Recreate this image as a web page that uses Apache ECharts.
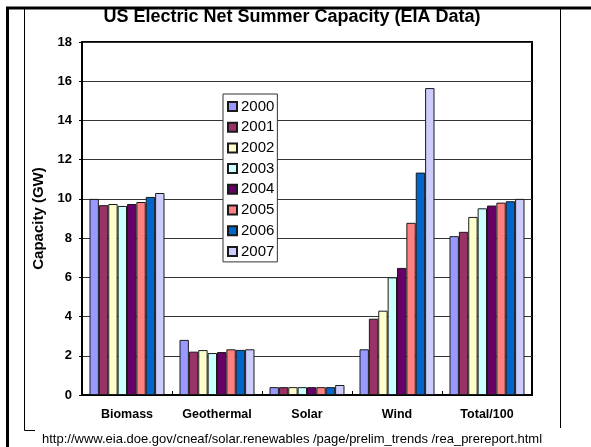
<!DOCTYPE html>
<html>
<head>
<meta charset="utf-8">
<script src="https://cdn.jsdelivr.net/npm/echarts@6/dist/echarts.min.js"></script>
<style>
  html, body { margin: 0; padding: 0; background: #fff; }
  #chart { width: 591px; height: 447px; }
</style>
</head>
<body>
<div id="chart"></div>
<script>
// Renewable source categories on the x axis
var categories = ['Biomass', 'Geothermal', 'Solar', 'Wind', 'Total/100'];

// Net summer capacity (GW) per year, one value per category
var years = ['2000', '2001', '2002', '2003', '2004', '2005', '2006', '2007'];
var cap2000 = [10.0, 2.81, 0.40, 2.33, 8.10];
var cap2001 = [9.68, 2.21, 0.40, 3.89, 8.32];
var cap2002 = [9.74, 2.29, 0.40, 4.30, 9.08];
var cap2003 = [9.64, 2.14, 0.40, 6.00, 9.52];
var cap2004 = [9.74, 2.19, 0.40, 6.48, 9.66];
var cap2005 = [9.84, 2.33, 0.40, 8.78, 9.81];
var cap2006 = [10.1, 2.30, 0.40, 11.34, 9.88];
var cap2007 = [10.3, 2.33, 0.51, 15.65, 10.0];
var yearValues = [cap2000, cap2001, cap2002, cap2003, cap2004, cap2005, cap2006, cap2007];

// Y axis tick values
var yTicks = [0, 2, 4, 6, 8, 10, 12, 14, 16, 18];

var palette = ['#9999FF', '#993366', '#FFFFCC', '#CCFFFF', '#660066', '#FF8080', '#0066CC', '#CCCCFF'];
var FONT = 'Liberation Sans, Arial, sans-serif';

var series = years.map(function (y, i) {
  return {
    name: y,
    type: 'bar',
    data: yearValues[i],
    barGap: '0%',
    barCategoryGap: '16.7%',
    itemStyle: { color: palette[i], borderColor: '#1a1a1a', borderWidth: 1 },
    emphasis: { disabled: true },
    animation: false
  };
});

var chart = echarts.init(document.getElementById('chart'), null, { renderer: 'canvas' });
chart.setOption({
  animation: false,
  backgroundColor: '#fff',
  title: {
    text: 'US Electric Net Summer Capacity (EIA Data)',
    left: 292,
    textAlign: 'center',
    top: 8,
    padding: 0,
    textStyle: { fontFamily: FONT, fontWeight: 'bold', fontSize: 18, color: '#000' }
  },
  legend: {
    orient: 'vertical',
    left: 223,
    top: 94,
    data: years,
    itemWidth: 9,
    itemHeight: 9,
    itemGap: 3.7,
    padding: [4, 3, 2, 4],
    backgroundColor: '#fff',
    borderColor: '#333',
    borderWidth: 1,
    borderRadius: 0,
    icon: 'rect',
    selectedMode: false,
    textStyle: { fontFamily: FONT, fontSize: 15, color: '#000', lineHeight: 17, padding: [0, 0, 0, -1] }
  },
  grid: {
    left: 82, top: 42, right: 59, bottom: 52,
    show: true, borderColor: '#000', borderWidth: 2, containLabel: false
  },
  xAxis: {
    type: 'category',
    data: categories,
    axisLine: { show: true, lineStyle: { color: '#000', width: 2 } },
    axisTick: { show: true, inside: true, length: 4, lineStyle: { color: '#000' } },
    axisLabel: { interval: 0, hideOverlap: false, fontFamily: FONT, fontWeight: 'bold', fontSize: 12.5, color: '#000', margin: 13 },
    splitLine: { show: false }
  },
  yAxis: {
    type: 'value',
    min: yTicks[0],
    max: yTicks[yTicks.length - 1],
    interval: yTicks[1] - yTicks[0],
    name: 'Capacity (GW)',
    nameLocation: 'middle',
    nameGap: 32,
    nameTextStyle: { fontFamily: FONT, fontWeight: 'bold', fontSize: 15, color: '#000' },
    axisLine: { show: true, lineStyle: { color: '#000', width: 2 } },
    axisTick: { show: true, length: 3, lineStyle: { color: '#000' } },
    axisLabel: { fontFamily: FONT, fontWeight: 'bold', fontSize: 13, color: '#000', margin: 10 },
    splitLine: { show: true, lineStyle: { color: '#333', width: 1 } }
  },
  graphic: [
    { type: 'line', shape: { x1: 6, y1: 8, x2: 591, y2: 8 }, style: { stroke: '#000', lineWidth: 3 }, silent: true },
    { type: 'line', shape: { x1: 7.5, y1: 7, x2: 7.5, y2: 447 }, style: { stroke: '#000', lineWidth: 3 }, silent: true },
    { type: 'polyline', shape: { points: [[24.5, 9], [24.5, 430.5], [35, 430.5]] }, style: { stroke: '#000', lineWidth: 1, fill: null }, silent: true },
    { type: 'line', shape: { x1: 560.5, y1: 9, x2: 560.5, y2: 428 }, style: { stroke: '#000', lineWidth: 1 }, silent: true },
    {
      type: 'text', left: 42, top: 433, silent: true,
      style: {
        text: 'http://www.eia.doe.gov/cneaf/solar.renewables /page/prelim_trends /rea_prereport.html',
        font: '13px ' + FONT, fill: '#000'
      }
    }
  ],
  series: series
});
</script>
</body>
</html>
